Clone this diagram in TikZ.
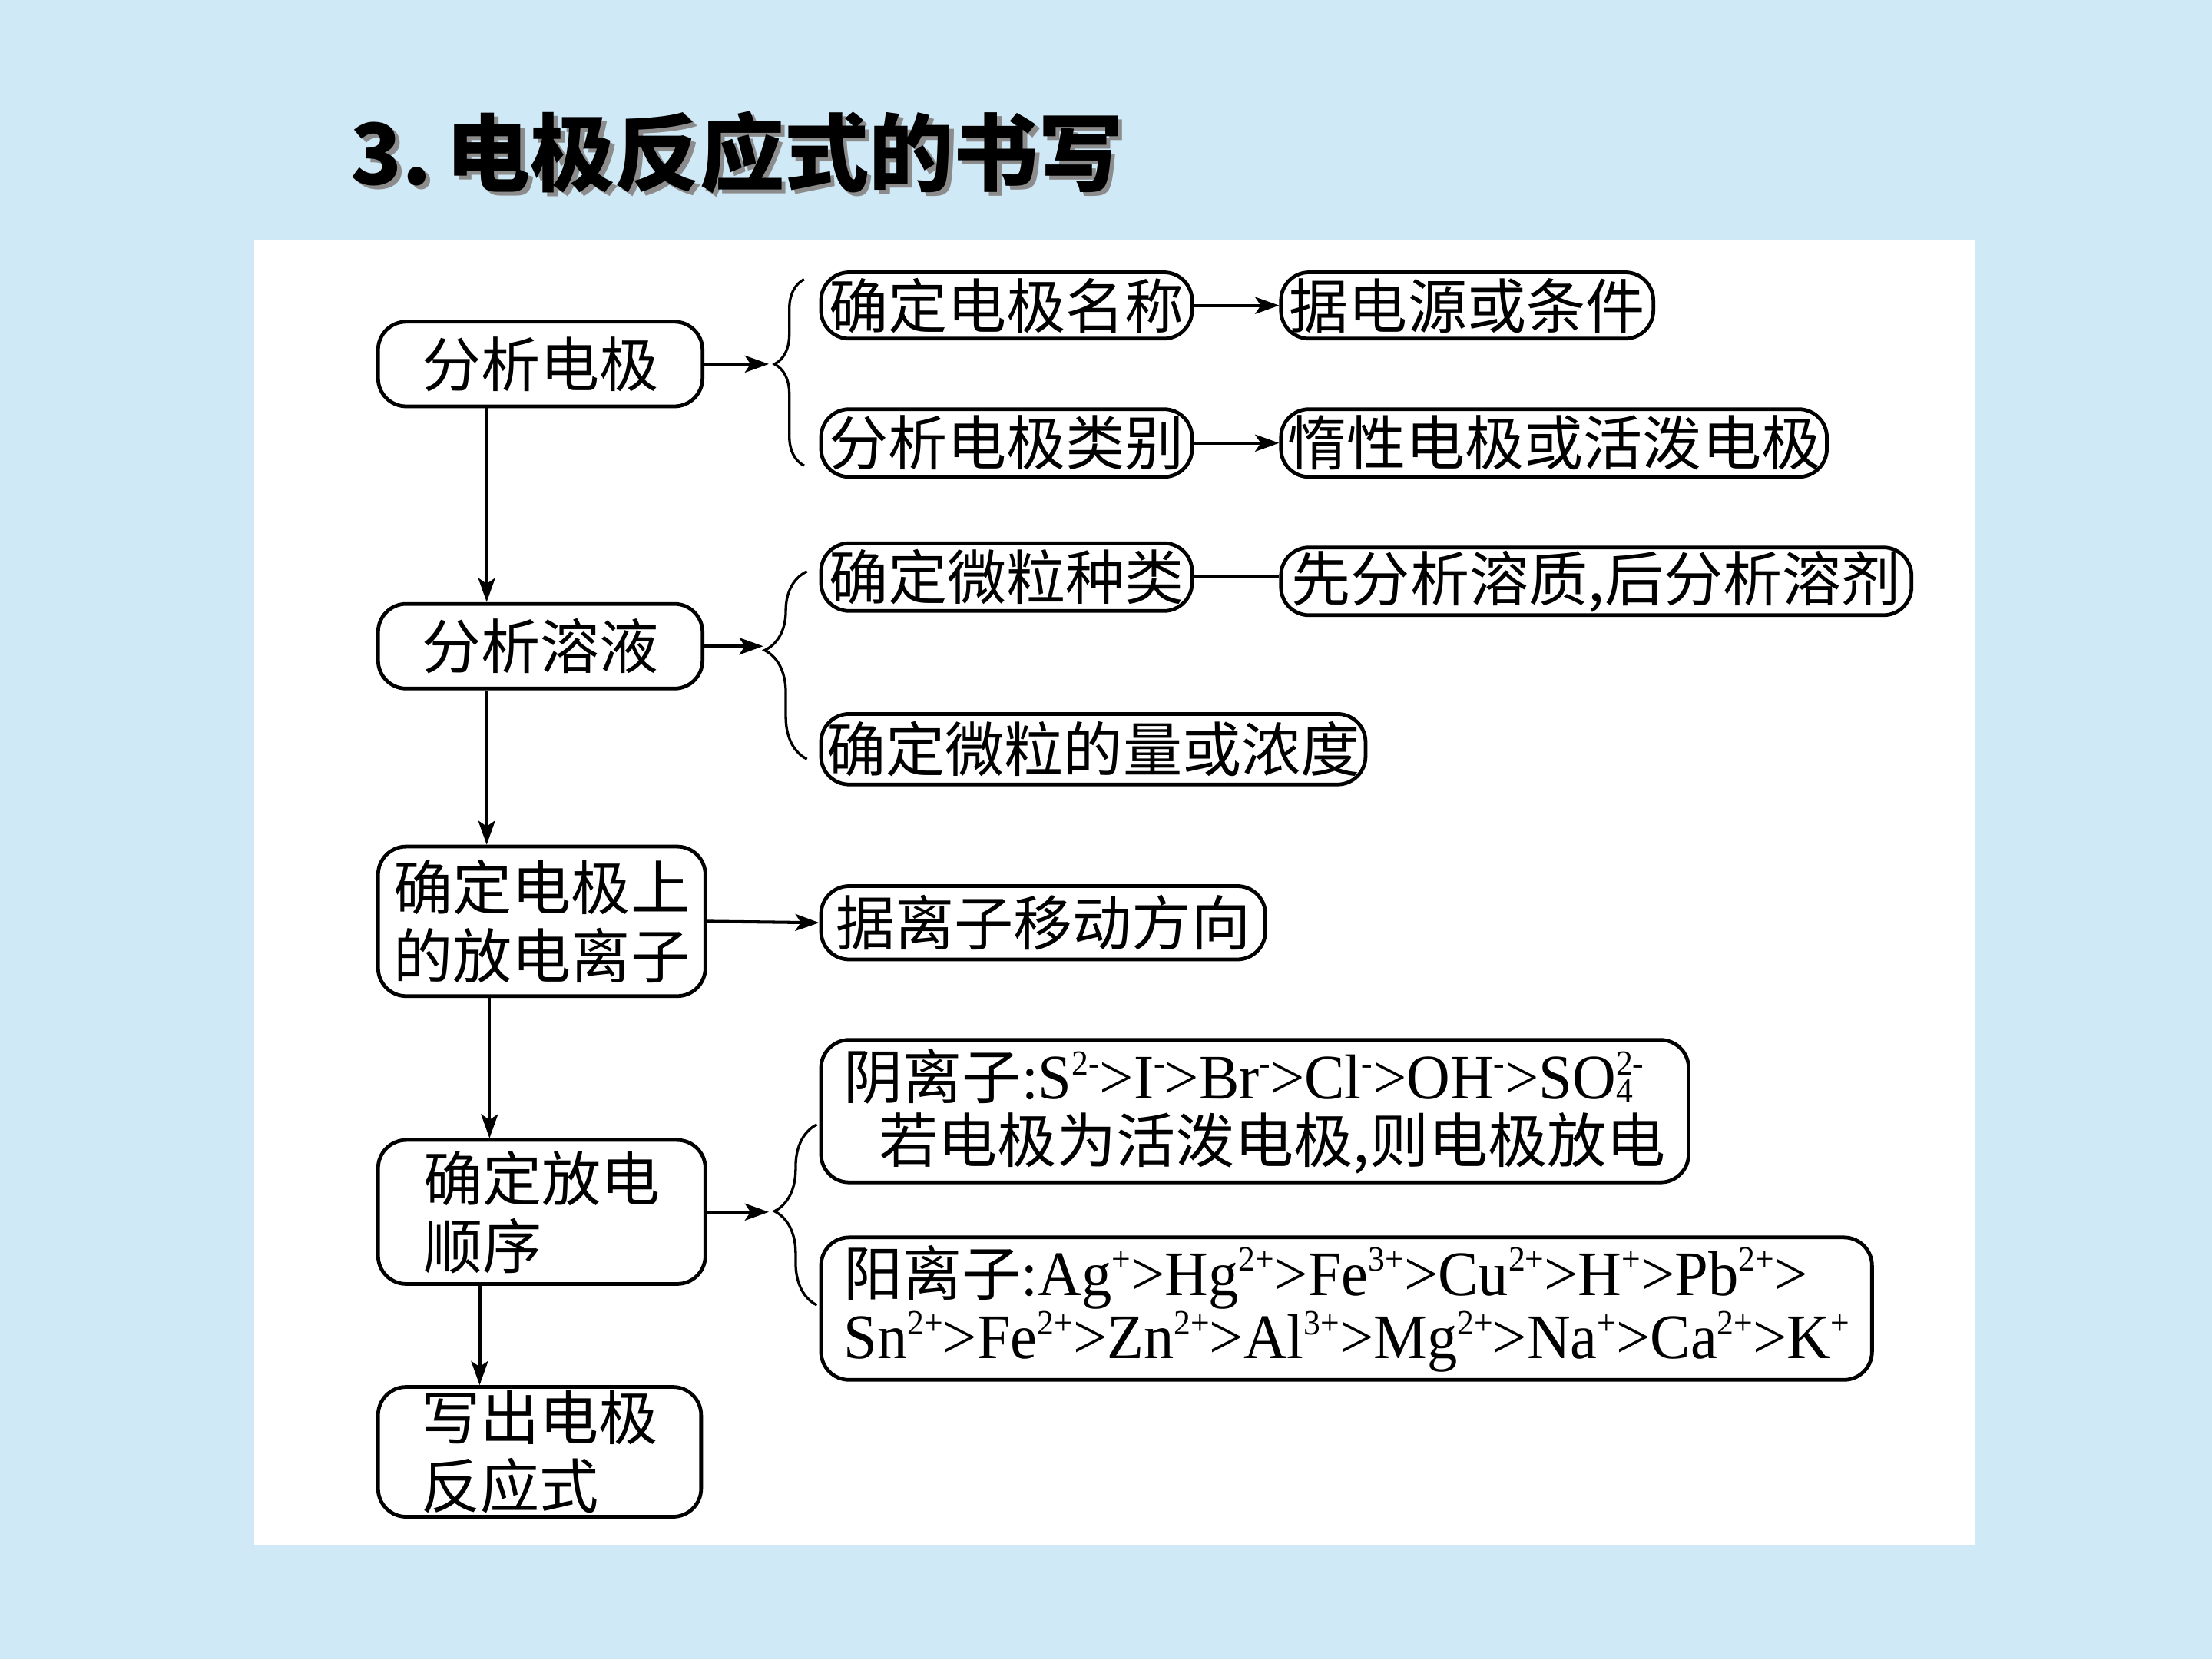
\documentclass[tikz,border=0pt]{standalone}
\usepackage{fontspec}
\setmainfont{Noto Sans CJK SC}
\newfontfamily\tms[FakeStretch=0.95]{Liberation Serif}
\usetikzlibrary{arrows.meta,decorations.pathreplacing}
\definecolor{bgblue}{RGB}{208,233,247}
\newcommand\chem{\tms\fontsize{45}{45}\selectfont}
\newcommand\chsup[1]{\raisebox{17pt}{\fontsize{25}{25}\selectfont #1}}
\newcommand\chsub[1]{\raisebox{-3pt}{\fontsize{25}{25}\selectfont #1}}
\tikzset{
  box/.style={draw, line width=2.6pt, rounded corners=20pt, inner sep=0pt,
    fill=white, font=\fontsize{42}{48}\selectfont},
  arr/.style={line width=2.2pt, -{Stealth[length=17pt,width=12pt,inset=4pt]}},
  plain/.style={line width=2.2pt},
  brc/.style={line width=1.8pt, decorate},
}
\begin{document}
\begin{tikzpicture}[x=1pt,y=-1pt]
\useasboundingbox (0,0) rectangle (1568,1176);
\fill[bgblue] (0,0) rectangle (1568,1176);
\fill[white] (180,170) rectangle (1400,1095);
% title
\node[anchor=west, text=black!45, font=\fontsize{60}{60}\selectfont\bfseries] (titleshadow) at (248,111) {3.\,电极反应式的书写};
\node[anchor=west, font=\fontsize{60}{60}\selectfont\bfseries] (title) at (245,108) {3.\,电极反应式的书写};
% boxes
\node[box, minimum width=230pt, minimum height=60pt] (A) at (383,258) {分析电极};
\node[box, minimum width=263pt, minimum height=47pt] (B1) at (713.5,216.5) {确定电极名称};
\node[box, minimum width=264pt, minimum height=47pt] (B2) at (1040,216.5) {据电源或条件};
\node[box, minimum width=263pt, minimum height=48pt] (C1) at (713.5,314) {分析电极类别};
\node[box, minimum width=387pt, minimum height=48pt] (C2) at (1101.5,314) {惰性电极或活泼电极};
\node[box, minimum width=263pt, minimum height=48pt] (D1) at (713.5,409) {确定微粒种类};
\node[box, minimum width=447pt, minimum height=48pt] (D2) at (1131.5,412) {先分析溶质,后分析溶剂};
\node[box, minimum width=230pt, minimum height=60pt] (S) at (383,458) {分析溶液};
\node[box, minimum width=386pt, minimum height=50pt] (E) at (775,531) {确定微粒的量或浓度};
\node[box, minimum width=232pt, minimum height=106pt, align=center] (F) at (384,653) {确定电极上\\的放电离子};
\node[box, minimum width=315pt, minimum height=52pt] (G) at (739.5,654) {据离子移动方向};
\node[box, minimum width=232pt, minimum height=102pt, align=left] (H) at (384,859) {确定放电\\顺序};
\node[box, minimum width=615pt, minimum height=101pt, align=left, font=\fontsize{42}{45}\selectfont] (I) at (889.5,787.5)
  {阴离子{\chem :S\chsup{2-}>I\chsup{-}>Br\chsup{-}>Cl\chsup{-}>OH\chsup{-}>SO\rlap{\chsub{4}}\chsup{2-}}\\
   \hspace*{25pt}若电极为活泼电极,则电极放电};
\node[box, minimum width=745pt, minimum height=101pt, align=left, font=\fontsize{42}{45}\selectfont] (J) at (954.5,927.5)
  {阳离子{\chem :Ag\chsup{+}>Hg\chsup{2+}>Fe\chsup{3+}>Cu\chsup{2+}>H\chsup{+}>Pb\chsup{2+}>}\\
   {\chem Sn\chsup{2+}>Fe\chsup{2+}>Zn\chsup{2+}>Al\chsup{3+}>Mg\chsup{2+}>Na\chsup{+}>Ca\chsup{2+}>K\chsup{+}}};
\node[box, minimum width=229pt, minimum height=92pt, align=left] (K) at (382.5,1029) {写出电极\\反应式};
% helper coordinates
\coordinate (x1) at (345,0);
\coordinate (x2) at (347,0);
\coordinate (x3) at (340,0);
\coordinate (t1) at (545,258);
\coordinate (t2) at (541,461);
\coordinate (t3) at (545,858);
\coordinate (b1bot) at (570,330);
\coordinate (b1top) at (570,198);
\coordinate (b2bot) at (572,538);
\coordinate (b2top) at (572,405);
\coordinate (b3bot) at (579,925);
\coordinate (b3top) at (579,797);
% vertical flow
\draw[arr] (A.south -| x1) -- (S.north -| x1);
\draw[arr] (S.south -| x1) -- (F.north -| x1);
\draw[arr] (F.south -| x2) -- (H.north -| x2);
\draw[arr] (H.south -| x3) -- (K.north -| x3);
% horizontal
\draw[arr] (A.east) -- (t1);
\draw[arr] (B1.east) -- (B2.west);
\draw[arr] (C1.east) -- (C2.west);
\draw[plain] (D1.east) -- (D1.east -| D2.west);
\draw[arr] (S.east) -- (S.east -| t2);
\draw[arr] (F.east) -- (G.west);
\draw[arr] (H.east) -- (H.east -| t3);
% braces
\draw[brc, decoration={brace, amplitude=21pt, aspect=0.545}] (b1bot) -- (b1top);
\draw[brc, decoration={brace, amplitude=30pt, aspect=0.58}] (b2bot) -- (b2top);
\draw[brc, decoration={brace, amplitude=30pt, aspect=0.52}] (b3bot) -- (b3top);
\end{tikzpicture}
\end{document}
